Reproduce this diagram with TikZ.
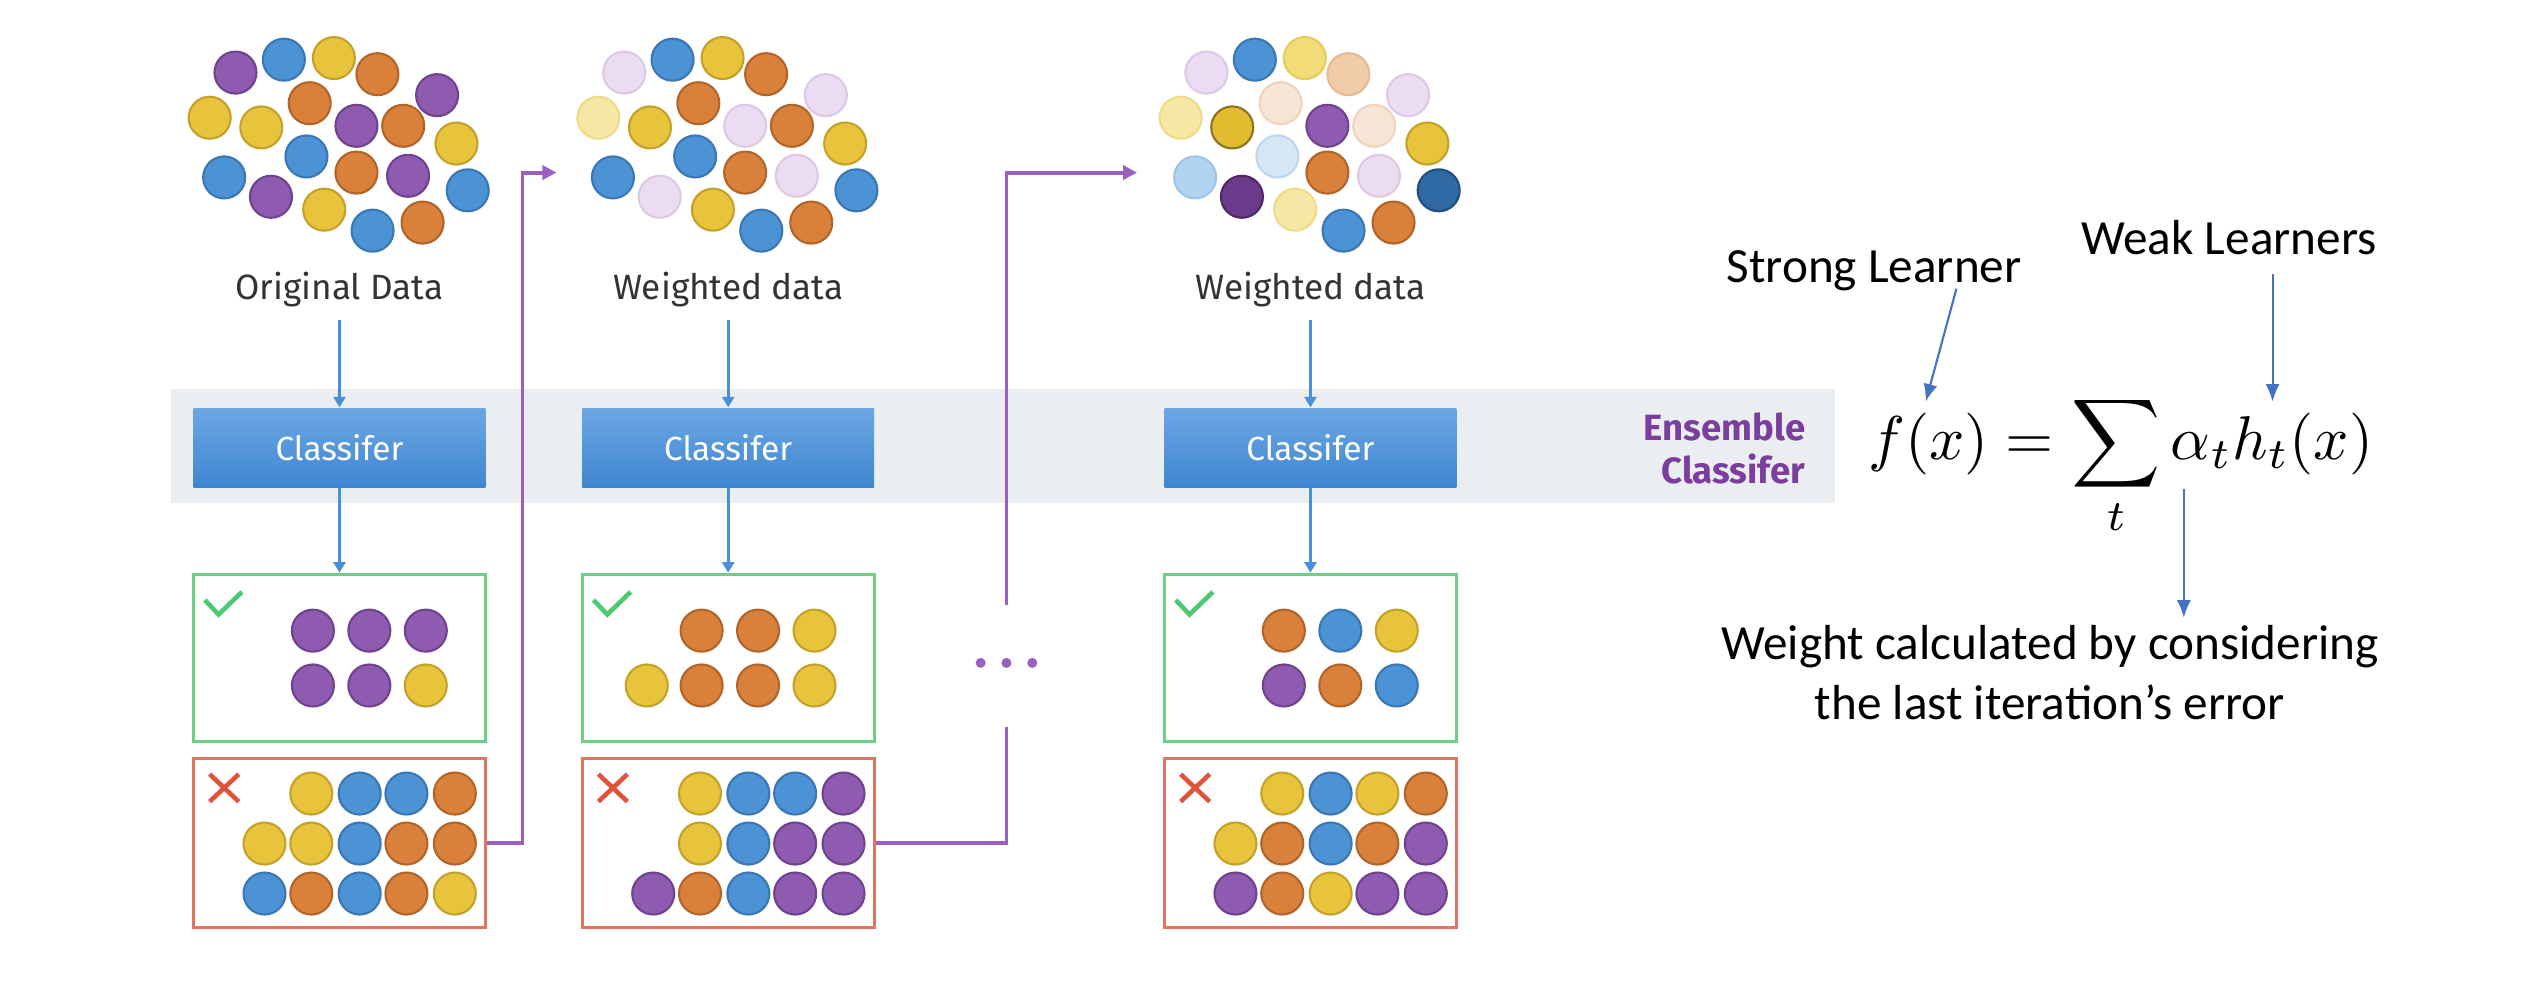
\documentclass[tikz,border=0pt]{standalone}
\usepackage{graphicx}
\usepackage{fontspec}
\setmainfont{Fira Sans}
\newfontfamily\calib{Carlito}
\usetikzlibrary{arrows.meta,fit,calc}
\definecolor{fB}{HTML}{4C93D5}\definecolor{dB}{HTML}{3B77B3}
\definecolor{fY}{HTML}{E8C43C}\definecolor{dY}{HTML}{C4A22A}
\definecolor{fO}{HTML}{D9813A}\definecolor{dO}{HTML}{B2652A}
\definecolor{fP}{HTML}{8F5BB0}\definecolor{dP}{HTML}{6F438F}
\definecolor{flP}{HTML}{ECDCF1}\definecolor{dlP}{HTML}{DCC8E7}
\definecolor{flY}{HTML}{F6E7A5}\definecolor{dlY}{HTML}{EEDB8A}
\definecolor{fmY}{HTML}{F2DC78}\definecolor{dmY}{HTML}{E6CC5A}
\definecolor{flO}{HTML}{F1CCA9}\definecolor{dlO}{HTML}{E8BA92}
\definecolor{fvO}{HTML}{F7E5D6}\definecolor{dvO}{HTML}{F0D3BD}
\definecolor{flB}{HTML}{B3D4F0}\definecolor{dlB}{HTML}{9BC5EA}
\definecolor{fvB}{HTML}{D5E6F5}\definecolor{dvB}{HTML}{BDD7EF}
\definecolor{fkB}{HTML}{2F6AA5}\definecolor{dkB}{HTML}{21507F}
\definecolor{fkP}{HTML}{6A3A8B}\definecolor{dkP}{HTML}{4E2868}
\definecolor{fkY}{HTML}{E2BC2E}\definecolor{dkY}{HTML}{8A7520}
\definecolor{bandgray}{HTML}{EBEEF0}
\definecolor{clsTop}{HTML}{6CA7E3}\definecolor{clsBot}{HTML}{3F86D1}
\definecolor{okgreen}{HTML}{6BD184}\definecolor{errred}{HTML}{E27560}
\definecolor{checkc}{HTML}{4DC873}\definecolor{xc}{HTML}{E0533A}
\definecolor{flowblue}{HTML}{4A90D9}\definecolor{purp}{HTML}{9B5FC0}
\definecolor{annblue}{HTML}{4472C4}\definecolor{enspurp}{HTML}{7B3E9E}
\definecolor{labgray}{HTML}{333333}
\begin{document}
\begin{tikzpicture}[x=0.01613cm,y=-0.01613cm,
  dot/.style={circle,inner sep=0pt,minimum size=0.42cm,line width=0.6pt},
  lab/.style={font=\fontsize{10}{12}\selectfont,text=labgray,inner sep=1.5pt},
  clsbox/.style={inner sep=0pt,top color=clsTop,bottom color=clsBot,draw=none},
  clstext/.style={text=white,font=\fontsize{9.5}{11}\selectfont},
  okbox/.style={draw=okgreen,line width=0.85pt,inner sep=0pt},
  errbox/.style={draw=errred,line width=0.85pt,inner sep=0pt},
  flow/.style={draw=flowblue,line width=0.8pt,-{Triangle[length=3pt,width=3.4pt]}},
  pline/.style={draw=purp,line width=1.1pt},
  parrow/.style={pline,-{Triangle[length=4pt,width=4pt]}},
  ann/.style={draw=annblue,line width=0.6pt,-{Latex[length=5pt,width=4pt]}},
  checkmk/.style={draw=checkc,line width=1.3pt},
  xmk/.style={draw=xc,line width=1.3pt},
  anntext/.style={font=\calib\fontsize{14}{17}\selectfont,text=black}]
\useasboundingbox (0,0) rectangle (1568,620);
\fill[white] (0,0) rectangle (1568,620);
% band
\node[fill=bandgray,inner sep=0pt,fit={(106,241)(1138,312)}] (band) {};
% clusters
\foreach \px/\py/\c [count=\i] in {146/45/P,176/37/B,207/36/Y,234/46/O,271/59/P,130/73/Y,162/79/Y,192/64/O,221/78/P,250/78/O,283/89/Y,139/110/B,190/97/B,221/107/O,253/109/P,290/118/B,168/122/P,201/130/Y,231/143/B,262/138/O}
  \node[dot,fill=f\c,draw=d\c] (ca-\i) at (\px,\py) {};
\begin{scope}[shift={(241,0)}]
\foreach \px/\py/\c [count=\i] in {146/45/lP,176/37/B,207/36/Y,234/46/O,271/59/lP,130/73/lY,162/79/Y,192/64/O,221/78/lP,250/78/O,283/89/Y,139/110/B,190/97/B,221/107/O,253/109/lP,290/118/B,168/122/lP,201/130/Y,231/143/B,262/138/O}
  \node[dot,fill=f\c,draw=d\c] (cb-\i) at (\px,\py) {};
\end{scope}
\begin{scope}[shift={(602,0)}]
\foreach \px/\py/\c [count=\i] in {146/45/lP,176/37/B,207/36/mY,234/46/lO,271/59/lP,130/73/lY,162/79/kY,192/64/vO,221/78/P,250/78/vO,283/89/Y,139/110/lB,190/97/vB,221/107/O,253/109/lP,290/118/kB,168/122/kP,201/130/lY,231/143/B,262/138/O}
  \node[dot,fill=f\c,draw=d\c] (cc-\i) at (\px,\py) {};
\end{scope}
% labels
\node[lab,anchor=base] (lab1) at (210.5,186) {Original Data};
\node[lab,anchor=base] (lab2) at (451.5,186) {Weighted data};
\node[lab,anchor=base] (lab3) at (812.5,186) {Weighted data};
% classifiers
\node[clsbox,fit={(120,253)(301,302)}] (k1) {};
\node[clsbox,fit={(361,253)(542,302)}] (k2) {};
\node[clsbox,fit={(722,253)(903,302)}] (k3) {};
\node[clstext] (k1t) at (k1.center) {Classifer};
\node[clstext] (k2t) at (k2.center) {Classifer};
\node[clstext] (k3t) at (k3.center) {Classifer};
% result boxes
\node[okbox,fit={(120,356)(301,460)}] (g1) {};
\node[okbox,fit={(361,356)(542,460)}] (g2) {};
\node[okbox,fit={(722,356)(903,460)}] (g3) {};
\node[errbox,fit={(120,470)(301,575)}] (r1) {};
\node[errbox,fit={(361,470)(542,575)}] (r2) {};
\node[errbox,fit={(722,470)(903,575)}] (r3) {};
% box 1 contents
\begin{scope}[shift={(120,0)}]
\draw[checkmk] (7,372) -- (15.5,381) -- (30,367);
\draw[xmk] (10,480) -- (28,497) (10,497) -- (28,480);
\foreach \px/\py/\c [count=\i] in {74/391/P,109/391/P,144/391/P,74/425/P,109/425/P,144/425/Y}
  \node[dot,fill=f\c,draw=d\c] (ga-\i) at (\px,\py) {};
\foreach \px/\py/\c [count=\i] in {73/492/Y,103/492/B,132/492/B,162/492/O,44/523/Y,73/523/Y,103/523/B,132/523/O,162/523/O,44/554/B,73/554/O,103/554/B,132/554/O,162/554/Y}
  \node[dot,fill=f\c,draw=d\c] (ra-\i) at (\px,\py) {};
\end{scope}
% box 2 contents
\begin{scope}[shift={(361,0)}]
\draw[checkmk] (7,372) -- (15.5,381) -- (30,367);
\draw[xmk] (10,480) -- (28,497) (10,497) -- (28,480);
\foreach \px/\py/\c [count=\i] in {74/391/O,109/391/O,144/391/Y,40/425/Y,74/425/O,109/425/O,144/425/Y}
  \node[dot,fill=f\c,draw=d\c] (gb-\i) at (\px,\py) {};
\foreach \px/\py/\c [count=\i] in {73/492/Y,103/492/B,132/492/B,162/492/P,73/523/Y,103/523/B,132/523/P,162/523/P,44/554/P,73/554/O,103/554/B,132/554/P,162/554/P}
  \node[dot,fill=f\c,draw=d\c] (rb-\i) at (\px,\py) {};
\end{scope}
% box 3 contents
\begin{scope}[shift={(722,0)}]
\draw[checkmk] (7,372) -- (15.5,381) -- (30,367);
\draw[xmk] (10,480) -- (28,497) (10,497) -- (28,480);
\foreach \px/\py/\c [count=\i] in {74/391/O,109/391/B,144/391/Y,74/425/P,109/425/O,144/425/B}
  \node[dot,fill=f\c,draw=d\c] (gc-\i) at (\px,\py) {};
\foreach \px/\py/\c [count=\i] in {73/492/Y,103/492/B,132/492/Y,162/492/O,44/523/Y,73/523/O,103/523/B,132/523/O,162/523/P,44/554/P,73/554/O,103/554/Y,132/554/P,162/554/P}
  \node[dot,fill=f\c,draw=d\c] (rc-\i) at (\px,\py) {};
\end{scope}
% flow arrows
\foreach \n in {1,2,3}{
  \draw[flow] ([yshift=-2pt]lab\n.south) -- (k\n.north);
  \draw[flow] (k\n.south) -- (g\n.north);
}
% purple connectors
\coordinate (in2) at (345,107);
\coordinate (in3) at (705,107);
\coordinate (gapB) at (624,451);
\coordinate (gapT) at (624,375);
\draw[parrow] (r1.east) -- ++(22,0) |- (in2);
\draw[pline] (r2.east) -| (gapB);
\draw[parrow] (gapT) |- (in3);
\foreach \xx [count=\i] in {608,624,640}
  \node[circle,fill=purp,inner sep=0pt,minimum size=0.1cm] (ell-\i) at (\xx,411) {};
% ensemble label
\node[anchor=east,align=right,text=enspurp,font=\bfseries\fontsize{10.4}{12.4}\selectfont] (ens) at (1127,278) {Ensemble\\Classifer};
% formula
\node[anchor=base west,inner sep=0pt] (fx) at (1158,285) {\scalebox{1.76}{$\displaystyle f(x)=\sum_t\alpha_t h_t(x)$}};
% annotations
\node[anchor=base,anntext] (strong) at (1162,175) {Strong Learner};
\node[anchor=base,anntext] (weak) at (1382,158) {Weak Learners};
\node[anchor=base,anntext,align=center] (wgt) at (1271,446) {Weight calculated by considering\\the last iteration’s error};
\coordinate (sA) at (1213,179);
\coordinate (sB) at (1194,249);
\coordinate (wA) at (1409,170);
\coordinate (wB) at (1409,249);
\coordinate (aA) at (1354,303);
\coordinate (aB) at (1354,383);
\draw[ann] (sA) -- (sB);
\draw[ann] (wA) -- (wB);
\draw[ann] (aA) -- (aB);
\end{tikzpicture}
\end{document}
